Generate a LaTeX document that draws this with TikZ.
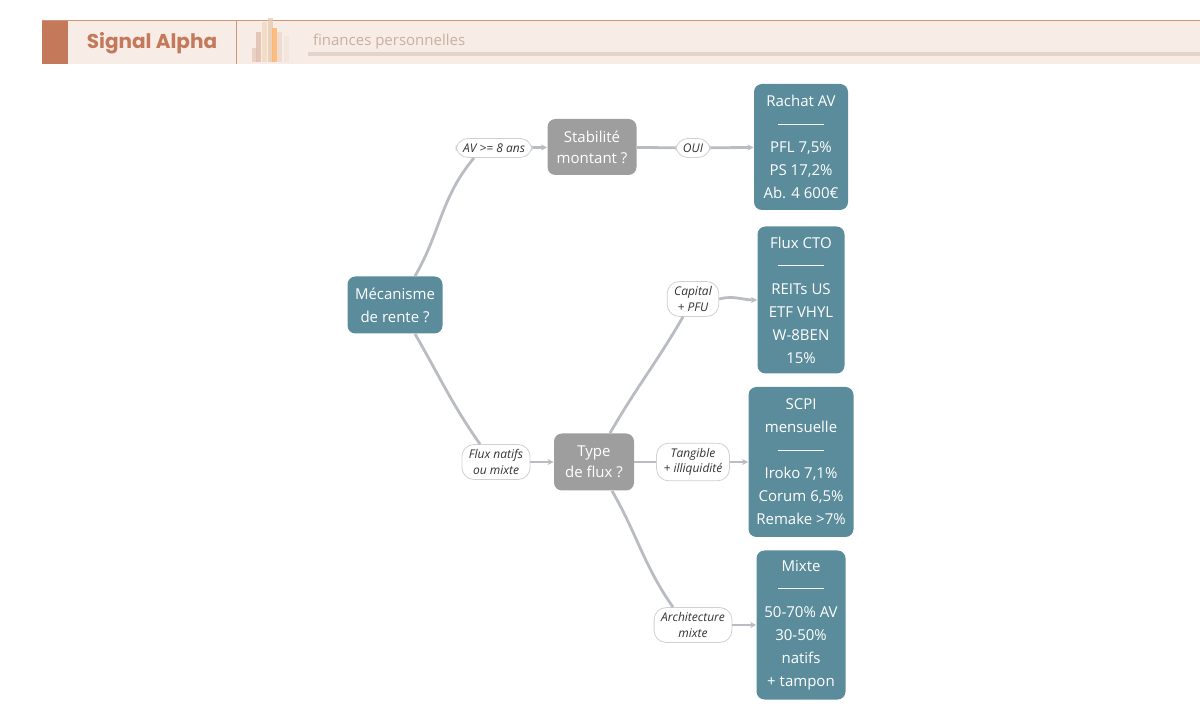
\documentclass[tikz,border=0pt]{standalone}
\usepackage{fontspec}
\setmainfont{Open Sans}
\newfontfamily\titlefont{Poppins}
\usetikzlibrary{arrows.meta}
\definecolor{tealbox}{HTML}{5B8C9C}
\definecolor{graybox}{HTML}{9E9E9E}
\definecolor{edgegray}{HTML}{B9BCC2}
\definecolor{headbg}{HTML}{F7ECE6}
\definecolor{rust}{HTML}{C47A5A}
\definecolor{headtxt}{HTML}{C9B0A0}
\definecolor{headbar}{HTML}{E3D3C8}
\begin{document}
\begin{tikzpicture}[x=0.5pt,y=-0.5pt]
\tikzset{decision/.style={fill=graybox,rounded corners=4pt,text=white,align=center,font=\fontsize{7.5}{10.5}\selectfont,inner sep=1pt}}
\tikzset{result/.style={fill=tealbox,rounded corners=4pt,text=white,align=center,font=\fontsize{7.5}{11.5}\selectfont,inner sep=1pt}}
\tikzset{pill/.style={draw=edgegray!70,line width=0.4pt,fill=white,rounded corners=6pt,align=center,font=\fontsize{6}{7.8}\selectfont\itshape,text=black!80,inner xsep=3.5pt,inner ysep=2.5pt,minimum height=9.5pt}}
\tikzset{edge/.style={draw=edgegray,line width=1.4pt}}
\tikzset{arrowedge/.style={edge,-{Stealth[length=3pt,width=3pt]}}}
\newcommand{\sep}{\rule[0.6ex]{23pt}{0.6pt}}

\useasboundingbox (0,0) rectangle (1200,721);
% header
\fill[headbg] (42,21) rectangle (1200,64);
\fill[rust] (42,21) rectangle (68,64);
\draw[rust!80,line width=0.5pt] (42,21) -- (1200,21);
\draw[rust!80,line width=0.5pt] (236,21) -- (236,64);
\node[text=rust,font=\titlefont\fontsize{10}{12}\selectfont\bfseries] (title) at (152,43) {Signal Alpha};
\foreach \x/\h/\c in {252/14/rust!40,256/30/rust!50,262/40/orange!30!brown!30,268/44/brown!40,272/34/orange!60,277/30/rust!30,284/26/brown!20} {
  \fill[\c,opacity=0.8] (\x,62) rectangle ++(5,-\h);
}
\fill[headbar] (308,52) rectangle (1200,56);
\node[anchor=west,text=headtxt,font=\fontsize{7.5}{9}\selectfont] (sub) at (306,42) {finances personnelles};

% decision nodes
\node[result,minimum width=47.5pt,minimum height=28.5pt] (mec) at (395,305) {Mécanisme\\de rente ?};
\node[decision,minimum width=44.5pt,minimum height=28pt] (stab) at (592,147) {Stabilité\\montant ?};
\node[decision,minimum width=40pt,minimum height=28.5pt] (type) at (594,462) {Type\\de flux ?};

% outcomes
\node[result,minimum width=47pt,minimum height=63pt] (rachat) at (801,147) {Rachat AV\\\sep\\PFL 7,5\%\\PS 17,2\%\\Ab. 4 600€};
\node[result,minimum width=43.5pt,minimum height=73.5pt] (cto) at (801,300) {Flux CTO\\\sep\\REITs US\\ETF VHYL\\W-8BEN\\15\%};
\node[result,minimum width=52.5pt,minimum height=75pt] (scpi) at (801,462) {SCPI\\mensuelle\\\sep\\Iroko 7,1\%\\Corum 6,5\%\\Remake >7\%};
\node[result,minimum width=44.5pt,minimum height=74.5pt] (mixte) at (801,625) {Mixte\\\sep\\50-70\% AV\\30-50\%\\natifs\\+ tampon};

% branch labels
\node[pill] (av) at (494,148) {AV >= 8 ans};
\node[pill] (oui) at (693,148) {OUI};
\node[pill] (cap) at (693,299) {Capital\\+ PFU};
\node[pill] (nat) at (496,462) {Flux natifs\\ou mixte};
\node[pill] (tang) at (693,462) {Tangible\\+ illiquidité};
\node[pill] (arch) at (693,625) {Architecture\\mixte};

% connectors
\path[edge] ([xshift=10pt]mec.north) to[out=60,in=-130] ([xshift=-10pt]av.south);
\path[arrowedge] (av) -- (stab);
\path[edge] (stab) -- (oui);
\path[arrowedge] (oui) -- (rachat);
\path[edge] ([xshift=10pt]mec.south) to[out=-60,in=125] ([xshift=-8pt]nat.north);
\path[arrowedge] (nat) -- (type);
\path[edge] ([xshift=8pt]type.north) to[out=60,in=-120] ([xshift=-5pt]cap.south);
\path[arrowedge] (cap.east) to[out=15,in=180] (cto);
\path[edge] (type) -- (tang);
\path[arrowedge] (tang) -- (scpi);
\path[edge] ([xshift=9pt]type.south) to[out=-60,in=125] ([xshift=-10pt]arch.north);
\path[arrowedge] (arch) -- (mixte);
\end{tikzpicture}
\end{document}
